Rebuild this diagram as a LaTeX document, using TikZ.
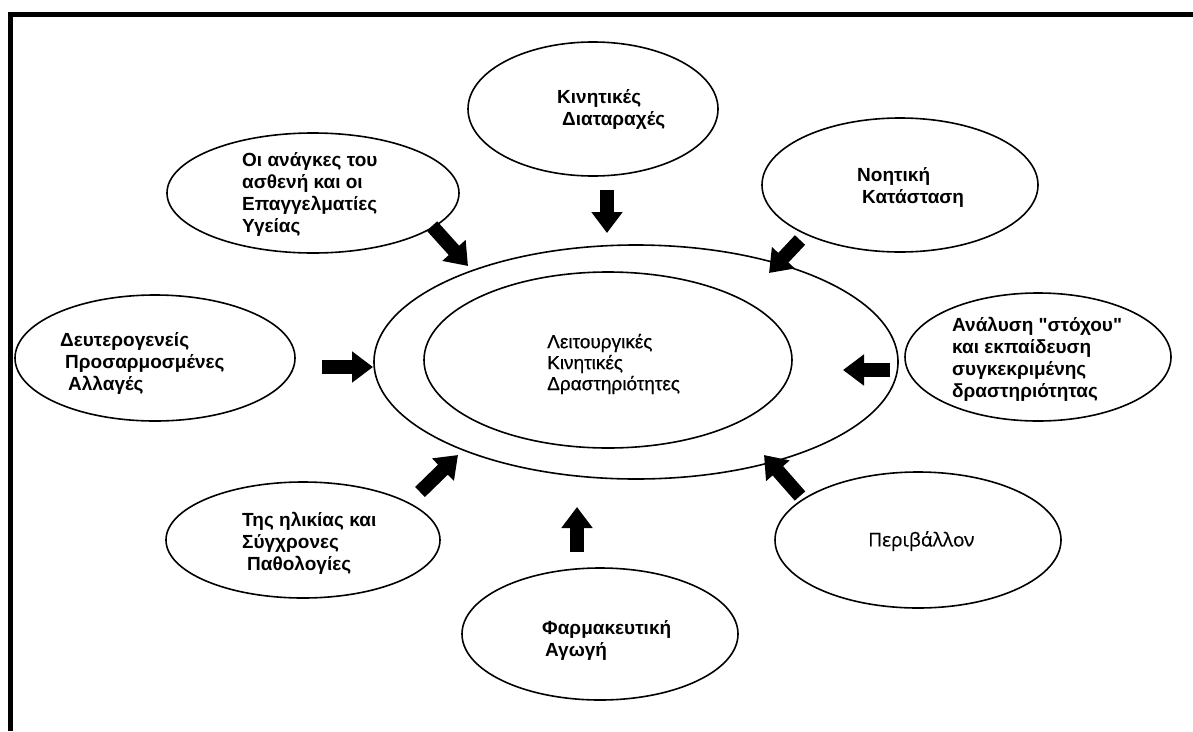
\documentclass[tikz,border=0pt]{standalone}
\usepackage{fontspec}
\setmainfont{Liberation Sans}
\newfontfamily\lsans{Liberation Sans}
\newfontfamily\lsansd[FakeBold=0.6]{Liberation Sans}
\newfontfamily\opensans[FakeBold=0.6]{Open Sans}
\usetikzlibrary{shapes.geometric,arrows.meta}
\begin{document}
\begin{tikzpicture}[x=1pt,y=-1pt,
  ell/.style={draw, ellipse, line width=1.6pt, inner sep=0pt},
  lbl/.style={align=left, font=\lsans\fontsize{19}{22}\selectfont\bfseries, inner sep=0pt, anchor=west},
  blk/.style={line width=14pt, -{Triangle[length=21pt,width=30pt]}},
  frame/.style={line width=5pt}]
\useasboundingbox (0,0) rectangle (1193,731);
% frame (top and left edges)
\draw[frame] (10,731) -- (10,14) -- (1193,14);

% centre
\node[ell, minimum width=524pt, minimum height=234pt] (outer) at (636,362) {};
\node[ell, minimum width=368pt, minimum height=176pt] (inner) at (608,360) {};
\node[lbl, font=\lsansd\fontsize{19}{21}\selectfont] (tc) at (547,364) {Λειτουργικές\\Κινητικές\\Δραστηριότητες};

% outer ellipses
\node[ell, minimum width=250pt, minimum height=134pt] (kin) at (593,109) {};
\node[lbl] (tkin) at (557,109) {Κινητικές\\\hspace{5pt}Διαταραχές};

\node[ell, minimum width=292pt, minimum height=120pt] (ana) at (313,193) {};
\node[lbl] (tana) at (242,194) {Οι ανάγκες του\\ασθενή και οι\\Επαγγελματίες\\Υγείας};

\node[ell, minimum width=276pt, minimum height=134pt] (noi) at (900,185) {};
\node[lbl] (tnoi) at (857,187) {Νοητική\\\hspace{5pt}Κατάσταση};

\node[ell, minimum width=280pt, minimum height=126pt] (deu) at (155,358) {};
\node[lbl] (tdeu) at (60,363) {Δευτερογενείς\\\hspace{5pt}Προσαρμοσμένες\\\hspace{8pt}Αλλαγές};

\node[ell, minimum width=266pt, minimum height=128pt] (anl) at (1038,357) {};
\node[lbl] (tanl) at (952,359) {Ανάλυση "στόχου"\\και εκπαίδευση\\συγκεκριμένης\\δραστηριότητας};

\node[ell, minimum width=274pt, minimum height=116pt] (hli) at (303,540) {};
\node[lbl] (thli) at (242,543) {Της ηλικίας και\\Σύγχρονες\\\hspace{5pt}Παθολογίες};

\node[ell, minimum width=276pt, minimum height=132pt] (far) at (600,634) {};
\node[lbl] (tfar) at (542,640) {Φαρμακευτική\\\hspace{3pt}Αγωγή};

\node[ell, minimum width=286pt, minimum height=136pt] (per) at (918,540) {};
\node[lbl, font=\opensans\fontsize{19}{22}\selectfont] (tper) at (868,541) {Περιβάλλον};

% arrows
\coordinate (a1s) at (607,190); \coordinate (a1e) at (607,233);
\coordinate (a2s) at (432,226); \coordinate (a2e) at (468,266);
\coordinate (a3s) at (800,240); \coordinate (a3e) at (769,273);
\coordinate (a4s) at (322,367); \coordinate (a4e) at (373,367);
\coordinate (a5s) at (890,370); \coordinate (a5e) at (843,370);
\coordinate (a6s) at (420,492); \coordinate (a6e) at (458,455);
\coordinate (a7s) at (800,496); \coordinate (a7e) at (764,455);
\coordinate (a8s) at (577,552); \coordinate (a8e) at (577,507);
\foreach \i in {1,...,8} \draw[blk] (a\i s) -- (a\i e);
\end{tikzpicture}
\end{document}
